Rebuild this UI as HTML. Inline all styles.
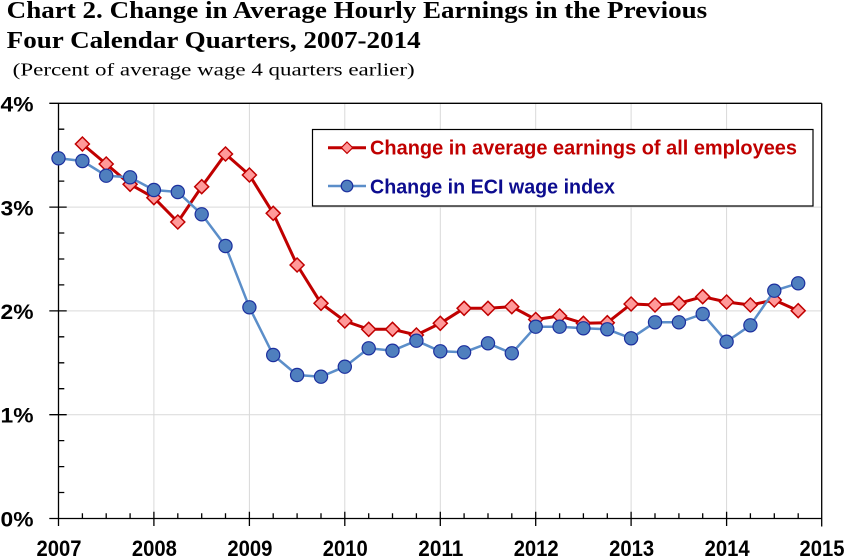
<!DOCTYPE html>
<html><head><meta charset="utf-8"><style>
html,body{margin:0;padding:0;background:#fff;}
svg{display:block;}
</style></head><body>
<svg width="846" height="556" viewBox="0 0 846 556" xmlns="http://www.w3.org/2000/svg">
<rect width="846" height="556" fill="#fff"/>
<!-- Title -->
<text x="6.7" y="18" font-family="Liberation Serif, serif" font-weight="bold" font-size="24" textLength="700.5" lengthAdjust="spacingAndGlyphs">Chart 2. Change in Average Hourly Earnings in the Previous</text>
<text x="6.7" y="48" font-family="Liberation Serif, serif" font-weight="bold" font-size="24" textLength="414" lengthAdjust="spacingAndGlyphs">Four Calendar Quarters, 2007-2014</text>
<text x="12.7" y="75.5" font-family="Liberation Serif, serif" font-size="18" textLength="402" lengthAdjust="spacingAndGlyphs">(Percent of average wage 4 quarters earlier)</text>

<!-- gridlines -->
<g stroke="#d9d9d9" stroke-width="1">
<line x1="59" y1="414.7" x2="821.7" y2="414.7"/>
<line x1="59" y1="310.9" x2="821.7" y2="310.9"/>
<line x1="59" y1="207.1" x2="821.7" y2="207.1"/>
<line x1="153.9" y1="103.3" x2="153.9" y2="518.5"/>
<line x1="249.4" y1="103.3" x2="249.4" y2="518.5"/>
<line x1="344.8" y1="103.3" x2="344.8" y2="518.5"/>
<line x1="440.3" y1="103.3" x2="440.3" y2="518.5"/>
<line x1="535.7" y1="103.3" x2="535.7" y2="518.5"/>
<line x1="631.1" y1="103.3" x2="631.1" y2="518.5"/>
<line x1="726.6" y1="103.3" x2="726.6" y2="518.5"/>
</g>

<!-- axes & border -->
<g stroke="#000" stroke-width="1.3" fill="none">
<line x1="49.3" y1="103.3" x2="821.7" y2="103.3"/>
<line x1="49.3" y1="518.5" x2="821.7" y2="518.5"/>
<line x1="58.5" y1="103.3" x2="58.5" y2="526"/>
<line x1="821.7" y1="103.3" x2="821.7" y2="526.5"/>
<line x1="49.3" y1="207.1" x2="66.7" y2="207.1"/>
<line x1="49.3" y1="310.9" x2="66.7" y2="310.9"/>
<line x1="49.3" y1="414.7" x2="66.7" y2="414.7"/>
<path d="M58.5 129.2h5.8M58.5 155.2h5.8M58.5 181.1h5.8M58.5 233h5.8M58.5 259h5.8M58.5 284.9h5.8M58.5 336.8h5.8M58.5 362.8h5.8M58.5 388.7h5.8M58.5 440.6h5.8M58.5 466.6h5.8M58.5 492.5h5.8"/>
<path d="M153.9 511.7V526M249.4 511.7V526M344.8 511.7V526M440.3 511.7V526M535.7 511.7V526M631.1 511.7V526M726.6 511.7V526"/>
<path d="M82.4 513.3V518.5M106.2 513.3V518.5M130.1 513.3V518.5M177.8 513.3V518.5M201.7 513.3V518.5M225.5 513.3V518.5M273.2 513.3V518.5M297.1 513.3V518.5M321 513.3V518.5M368.7 513.3V518.5M392.5 513.3V518.5M416.4 513.3V518.5M464.1 513.3V518.5M488 513.3V518.5M511.8 513.3V518.5M559.6 513.3V518.5M583.4 513.3V518.5M607.3 513.3V518.5M655 513.3V518.5M678.9 513.3V518.5M702.7 513.3V518.5M750.4 513.3V518.5M774.3 513.3V518.5M798.2 513.3V518.5"/>
</g>

<!-- y labels -->
<g font-family="Liberation Sans, sans-serif" font-weight="bold" font-size="21" fill="#000">
<text x="0.5" y="111.5" textLength="33" lengthAdjust="spacingAndGlyphs">4%</text>
<text x="0.5" y="215.3" textLength="33" lengthAdjust="spacingAndGlyphs">3%</text>
<text x="0.5" y="319.1" textLength="33" lengthAdjust="spacingAndGlyphs">2%</text>
<text x="0.5" y="422.5" textLength="33" lengthAdjust="spacingAndGlyphs">1%</text>
<text x="0.5" y="526.5" textLength="33" lengthAdjust="spacingAndGlyphs">0%</text>
</g>
<!-- x labels -->
<g font-family="Liberation Sans, sans-serif" font-weight="bold" font-size="22" fill="#000">
<text x="36.5" y="556" textLength="45" lengthAdjust="spacingAndGlyphs">2007</text>
<text x="131.9" y="556" textLength="45" lengthAdjust="spacingAndGlyphs">2008</text>
<text x="227.4" y="556" textLength="45" lengthAdjust="spacingAndGlyphs">2009</text>
<text x="322.8" y="556" textLength="45" lengthAdjust="spacingAndGlyphs">2010</text>
<text x="418.3" y="556" textLength="45" lengthAdjust="spacingAndGlyphs">2011</text>
<text x="513.7" y="556" textLength="45" lengthAdjust="spacingAndGlyphs">2012</text>
<text x="609.1" y="556" textLength="45" lengthAdjust="spacingAndGlyphs">2013</text>
<text x="704.6" y="556" textLength="45" lengthAdjust="spacingAndGlyphs">2014</text>
<text x="799.5" y="556" textLength="45" lengthAdjust="spacingAndGlyphs">2015</text>
</g>

<!-- Red series -->
<polyline fill="none" stroke="#c00000" stroke-width="3" stroke-linejoin="round" points="82.4,144 106.2,164 130.1,184.3 153.9,197.7 177.8,222 201.7,186.7 225.5,154 249.4,175 273.2,213.3 297.1,265 321,303.3 344.8,321 368.7,329.3 392.5,329.3 416.4,335 440.3,323.3 464.1,308.3 488,308.3 511.8,306.7 535.7,319.5 559.6,316 583.4,323.3 607.3,322.7 631.1,304 655,305 678.9,303.3 702.7,296.7 726.6,302 750.4,305 774.3,300 798.2,310.7"/>
<g fill="#ff9999" stroke="#c00000" stroke-width="1.5" stroke-linejoin="miter">
<path d="M82.4 137l7 7-7 7-7-7z"/>
<path d="M106.2 157l7 7-7 7-7-7z"/>
<path d="M130.1 177.3l7 7-7 7-7-7z"/>
<path d="M153.9 190.7l7 7-7 7-7-7z"/>
<path d="M177.8 215l7 7-7 7-7-7z"/>
<path d="M201.7 179.7l7 7-7 7-7-7z"/>
<path d="M225.5 147l7 7-7 7-7-7z"/>
<path d="M249.4 168l7 7-7 7-7-7z"/>
<path d="M273.2 206.3l7 7-7 7-7-7z"/>
<path d="M297.1 258l7 7-7 7-7-7z"/>
<path d="M321 296.3l7 7-7 7-7-7z"/>
<path d="M344.8 314l7 7-7 7-7-7z"/>
<path d="M368.7 322.3l7 7-7 7-7-7z"/>
<path d="M392.5 322.3l7 7-7 7-7-7z"/>
<path d="M416.4 328l7 7-7 7-7-7z"/>
<path d="M440.3 316.3l7 7-7 7-7-7z"/>
<path d="M464.1 301.3l7 7-7 7-7-7z"/>
<path d="M488 301.3l7 7-7 7-7-7z"/>
<path d="M511.8 299.7l7 7-7 7-7-7z"/>
<path d="M535.7 312.5l7 7-7 7-7-7z"/>
<path d="M559.6 309l7 7-7 7-7-7z"/>
<path d="M583.4 316.3l7 7-7 7-7-7z"/>
<path d="M607.3 315.7l7 7-7 7-7-7z"/>
<path d="M631.1 297l7 7-7 7-7-7z"/>
<path d="M655 298l7 7-7 7-7-7z"/>
<path d="M678.9 296.3l7 7-7 7-7-7z"/>
<path d="M702.7 289.7l7 7-7 7-7-7z"/>
<path d="M726.6 295l7 7-7 7-7-7z"/>
<path d="M750.4 298l7 7-7 7-7-7z"/>
<path d="M774.3 293l7 7-7 7-7-7z"/>
<path d="M798.2 303.7l7 7-7 7-7-7z"/>
</g>

<!-- Blue series -->
<polyline fill="none" stroke="#5b8ec9" stroke-width="2.5" stroke-linejoin="round" points="58.5,158.3 82.4,161 106.2,175.7 130.1,177.3 153.9,190 177.8,192 201.7,214.3 225.5,246 249.4,307.3 273.2,355 297.1,375 321,376.7 344.8,366.7 368.7,348.3 392.5,350.7 416.4,340.7 440.3,351.3 464.1,352.3 488,343.3 511.8,353.3 535.7,326.7 559.6,326.7 583.4,328.3 607.3,329.3 631.1,338.3 655,322.3 678.9,322.3 702.7,314 726.6,341.7 750.4,325.3 774.3,290.7 798.2,283.3"/>
<g fill="#4f7fbe" stroke="#1c2f9e" stroke-width="1.2">
<circle cx="58.5" cy="158.3" r="6.6"/>
<circle cx="82.4" cy="161" r="6.6"/>
<circle cx="106.2" cy="175.7" r="6.6"/>
<circle cx="130.1" cy="177.3" r="6.6"/>
<circle cx="153.9" cy="190" r="6.6"/>
<circle cx="177.8" cy="192" r="6.6"/>
<circle cx="201.7" cy="214.3" r="6.6"/>
<circle cx="225.5" cy="246" r="6.6"/>
<circle cx="249.4" cy="307.3" r="6.6"/>
<circle cx="273.2" cy="355" r="6.6"/>
<circle cx="297.1" cy="375" r="6.6"/>
<circle cx="321" cy="376.7" r="6.6"/>
<circle cx="344.8" cy="366.7" r="6.6"/>
<circle cx="368.7" cy="348.3" r="6.6"/>
<circle cx="392.5" cy="350.7" r="6.6"/>
<circle cx="416.4" cy="340.7" r="6.6"/>
<circle cx="440.3" cy="351.3" r="6.6"/>
<circle cx="464.1" cy="352.3" r="6.6"/>
<circle cx="488" cy="343.3" r="6.6"/>
<circle cx="511.8" cy="353.3" r="6.6"/>
<circle cx="535.7" cy="326.7" r="6.6"/>
<circle cx="559.6" cy="326.7" r="6.6"/>
<circle cx="583.4" cy="328.3" r="6.6"/>
<circle cx="607.3" cy="329.3" r="6.6"/>
<circle cx="631.1" cy="338.3" r="6.6"/>
<circle cx="655" cy="322.3" r="6.6"/>
<circle cx="678.9" cy="322.3" r="6.6"/>
<circle cx="702.7" cy="314" r="6.6"/>
<circle cx="726.6" cy="341.7" r="6.6"/>
<circle cx="750.4" cy="325.3" r="6.6"/>
<circle cx="774.3" cy="290.7" r="6.6"/>
<circle cx="798.2" cy="283.3" r="6.6"/>
</g>

<!-- Legend -->
<rect x="312.5" y="129.5" width="500.5" height="76.5" fill="#fff" stroke="#000" stroke-width="1.2"/>
<line x1="328" y1="147.7" x2="366" y2="147.7" stroke="#c00000" stroke-width="3"/>
<path d="M347 142l5.7 5.7-5.7 5.7-5.7-5.7z" fill="#ff9999" stroke="#c00000" stroke-width="1.2"/>
<text x="370" y="154.5" font-family="Liberation Sans, sans-serif" font-weight="bold" font-size="20" fill="#c00000" textLength="427" lengthAdjust="spacingAndGlyphs">Change in average earnings of all employees</text>
<line x1="328" y1="186" x2="366" y2="186" stroke="#5b8ec9" stroke-width="2.5"/>
<circle cx="347" cy="186" r="5.8" fill="#4f7fbe" stroke="#1c2f9e" stroke-width="1.2"/>
<text x="370" y="193.5" font-family="Liberation Sans, sans-serif" font-weight="bold" font-size="20" fill="#0c0c8f" textLength="245" lengthAdjust="spacingAndGlyphs">Change in ECI wage index</text>
</svg>
</body></html>
